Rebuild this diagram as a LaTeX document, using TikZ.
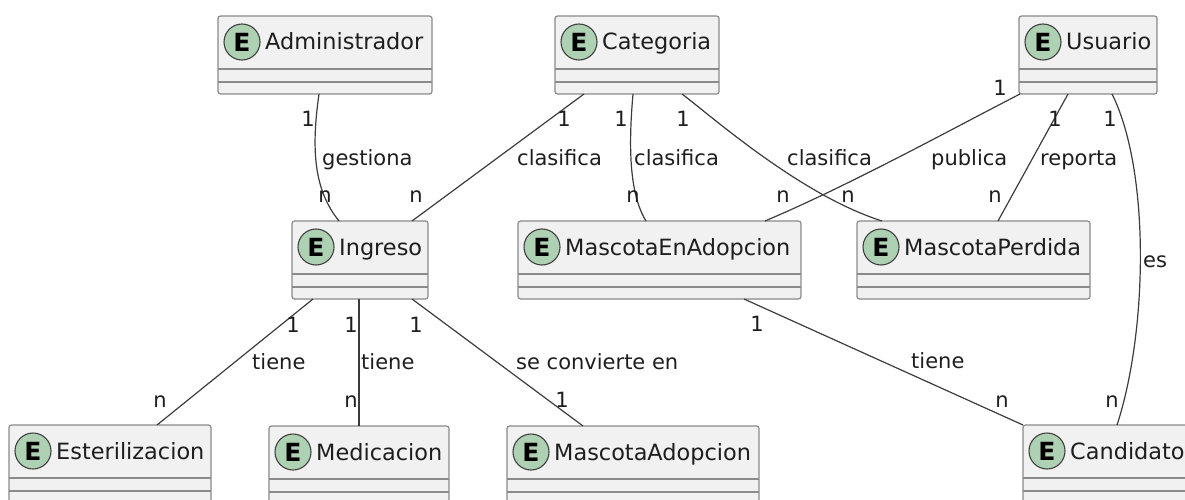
\documentclass[tikz,border=0pt]{standalone}
\usepackage{fontspec}
\setmainfont{DejaVu Sans}
\usetikzlibrary{calc}
\definecolor{boxfill}{HTML}{F1F1F1}
\definecolor{boxline}{HTML}{8A8A8A}
\definecolor{edgecol}{HTML}{3C3C3C}
\definecolor{circfill}{HTML}{ADD1B2}
\definecolor{txt}{HTML}{1E1E1E}
\tikzset{
 entbox/.style={draw=boxline, fill=boxfill, line width=1.2pt, rounded corners=2.5pt, anchor=north west, minimum height=78pt, inner sep=0pt, outer sep=0pt},
 sepline/.style={draw=boxline, line width=1.2pt},
 ebadge/.style={circle, draw=black!75, fill=circfill, line width=1.1pt, minimum size=36pt, inner sep=0pt, font=\fontsize{25pt}{27pt}\selectfont\bfseries, text=black},
 entname/.style={anchor=base west, inner sep=0pt, font=\fontsize{22.4pt}{26pt}\selectfont, text=txt},
 rel/.style={draw=edgecol, line width=1.2pt},
 mult/.style={anchor=base, inner sep=0pt, font=\fontsize{21pt}{24pt}\selectfont, text=txt},
 rlabel/.style={anchor=base west, inner sep=0pt, font=\fontsize{21pt}{24pt}\selectfont, text=txt},
}
\newcommand{\entity}[5]{%
  \node[entbox, minimum width=#4pt] (#1) at (#2,#3) {};
  \draw[sepline] ($(#1.north west)+(0,53)$) -- ($(#1.north east)+(0,53)$);
  \draw[sepline] ($(#1.north west)+(0,66)$) -- ($(#1.north east)+(0,66)$);
  \node[ebadge] (#1-badge) at ($(#1.north west)+(24,26)$) {E};
  \node[entname] (#1-name) at ($(#1.north west)+(47,34)$) {#5};
}
\begin{document}
\begin{tikzpicture}[x=1pt,y=-1pt]
\useasboundingbox (0,0) rectangle (1185,500);
\clip (0,0) rectangle (1185,500);
\entity{adm}{218}{16}{214}{Administrador}
\entity{cat}{555}{16}{164}{Categoria}
\entity{usu}{1019}{16}{138}{Usuario}
\entity{ing}{292}{221}{136}{Ingreso}
\entity{mea}{518}{221}{283}{MascotaEnAdopcion}
\entity{mp}{857}{221}{233}{MascotaPerdida}
\entity{est}{9}{425}{202}{Esterilizacion}
\entity{med}{269}{426}{180}{Medicacion}
\entity{ma}{507}{426}{252}{MascotaAdopcion}
\entity{cand}{1023}{425}{170}{Candidato}

% connectors
\draw[rel] ($(adm.south west)+(101,0)$) .. controls (311,150) and (314,190) .. ($(ing.north west)+(47,0)$);
\draw[rel] ($(cat.south west)+(29,0)$) -- ($(ing.north west)+(120,0)$);
\draw[rel] ($(cat.south west)+(78,0)$) .. controls (628,150) and (630,195) .. ($(mea.north west)+(128,0)$);
\draw[rel] ($(cat.south west)+(127,0)$) .. controls (710,115) and (800,195) .. ($(mp.north west)+(25,0)$);
\draw[rel] ($(usu.south west)+(1,0)$) .. controls (950,130) and (850,185) .. ($(mea.north west)+(247,0)$);
\draw[rel] ($(usu.south west)+(49,0)$) -- ($(mp.north west)+(141,0)$);
\draw[rel] ($(usu.south west)+(93,0)$) .. controls (1150,170) and (1148,330) .. ($(cand.north west)+(94,0)$);
\draw[rel] ($(ing.south west)+(21,0)$) -- ($(est.north west)+(148,0)$);
\draw[rel] ($(ing.south west)+(67,0)$) -- ($(med.north west)+(90,0)$);
\draw[rel] ($(ing.south west)+(120,0)$) -- ($(ma.north west)+(76,0)$);
\draw[rel] ($(mea.south west)+(226,0)$) -- (cand.north west);

% labels
\node[mult] (m1) at (308,127) {1};
\node[rlabel] (r1) at (322,165) {gestiona};
\node[mult] (m2) at (325,202) {n};

\node[mult] (m3) at (564,127) {1};
\node[rlabel] (r2) at (517,165) {clasifica};
\node[mult] (m4) at (416,202) {n};

\node[mult] (m5) at (621,127) {1};
\node[rlabel] (r3) at (634,165) {clasifica};
\node[mult] (m6) at (633,202) {n};

\node[mult] (m7) at (683,127) {1};
\node[rlabel] (r4) at (787,165) {clasifica};
\node[mult] (m8) at (848,202) {n};

\node[mult] (m9) at (1000,96) {1};
\node[rlabel] (r5) at (931,165) {publica};
\node[mult] (m10) at (783,202) {n};

\node[mult] (m11) at (1055,127) {1};
\node[rlabel] (r6) at (1040,165) {reporta};
\node[mult] (m12) at (995,202) {n};

\node[mult] (m13) at (1110,127) {1};
\node[rlabel] (r7) at (1143,267) {es};
\node[mult] (m14) at (1112,407) {n};

\node[mult] (m15) at (293,332) {1};
\node[rlabel] (r8) at (252,369) {tiene};
\node[mult] (m16) at (160,407) {n};

\node[mult] (m17) at (351,332) {1};
\node[rlabel] (r9) at (361,369) {tiene};
\node[mult] (m18) at (351,407) {n};

\node[mult] (m19) at (416,332) {1};
\node[rlabel] (r10) at (516,369) {se convierte en};
\node[mult] (m20) at (562,407) {1};

\node[mult] (m21) at (757,331) {1};
\node[rlabel] (r11) at (911,368) {tiene};
\node[mult] (m22) at (1002,407) {n};
\end{tikzpicture}
\end{document}
